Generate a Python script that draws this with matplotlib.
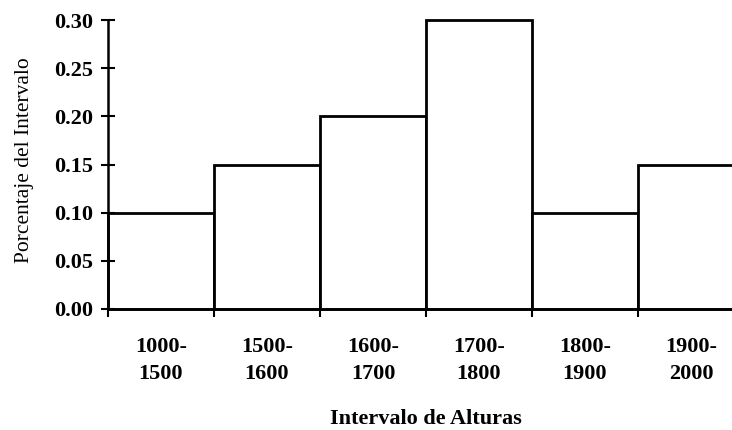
import matplotlib
matplotlib.use("Agg")
import matplotlib.pyplot as plt

# Frequency share per height interval
intervalos = ["1000-\n1500", "1500-\n1600", "1600-\n1700", "1700-\n1800", "1800-\n1900", "1900-\n2000"]
porcentaje = [0.10, 0.15, 0.20, 0.30, 0.10, 0.15]
yticks = [0.00, 0.05, 0.10, 0.15, 0.20, 0.25, 0.30]

plt.rcParams["font.family"] = ["Liberation Serif", "DejaVu Serif"]

W, H = 732, 430
fig = plt.figure(figsize=(W / 100, H / 100), dpi=100)
# axes frame in pixels: left 108, right 744 (last bar runs past the edge), y0 at 309, 0.30 at 20
left, right, bottom, top = 108, 744, 309, 20
ax = fig.add_axes([left / W, (H - bottom) / H, (right - left) / W, (bottom - top) / H])

x = list(range(len(porcentaje)))
ax.bar(x, porcentaje, width=1.0, align="edge", facecolor="white",
       edgecolor="black", linewidth=2.0, clip_on=False)

ax.set_xlim(0, len(porcentaje))
ax.set_ylim(0, 0.30)

for s in ["top", "right"]:
    ax.spines[s].set_visible(False)
for s in ["left", "bottom"]:
    ax.spines[s].set_linewidth(1.8)

ax.set_yticks(yticks)
ax.set_yticklabels([f"{v:.2f}" for v in yticks], fontsize=16, fontweight="bold")
ax.tick_params(axis="y", direction="inout", length=10, width=1.5, pad=6)

# edge ticks at bar boundaries, labels centred in each bar
ax.set_xticks(range(len(porcentaje) + 1))
ax.set_xticklabels([])
ax.tick_params(axis="x", which="major", direction="out", length=6, width=1.5)
ax.set_xticks([i + 0.5 for i in x], minor=True)
ax.set_xticklabels(intervalos, minor=True, fontsize=16, fontweight="bold", linespacing=1.5)
ax.tick_params(axis="x", which="minor", length=0, pad=20)

ax.set_ylabel("Porcentaje del Intervalo", fontsize=15.5)
ax.yaxis.set_label_coords(34 / W, (H - 160) / H, transform=fig.transFigure)

ax.set_xlabel("Intervalo de Alturas", fontsize=16, fontweight="bold")
ax.xaxis.set_label_coords(0.5 * (left + right) / W, (H - 419) / H, transform=fig.transFigure)
ax.xaxis.label.set_verticalalignment("center")

fig.savefig("out.png", dpi=100)
